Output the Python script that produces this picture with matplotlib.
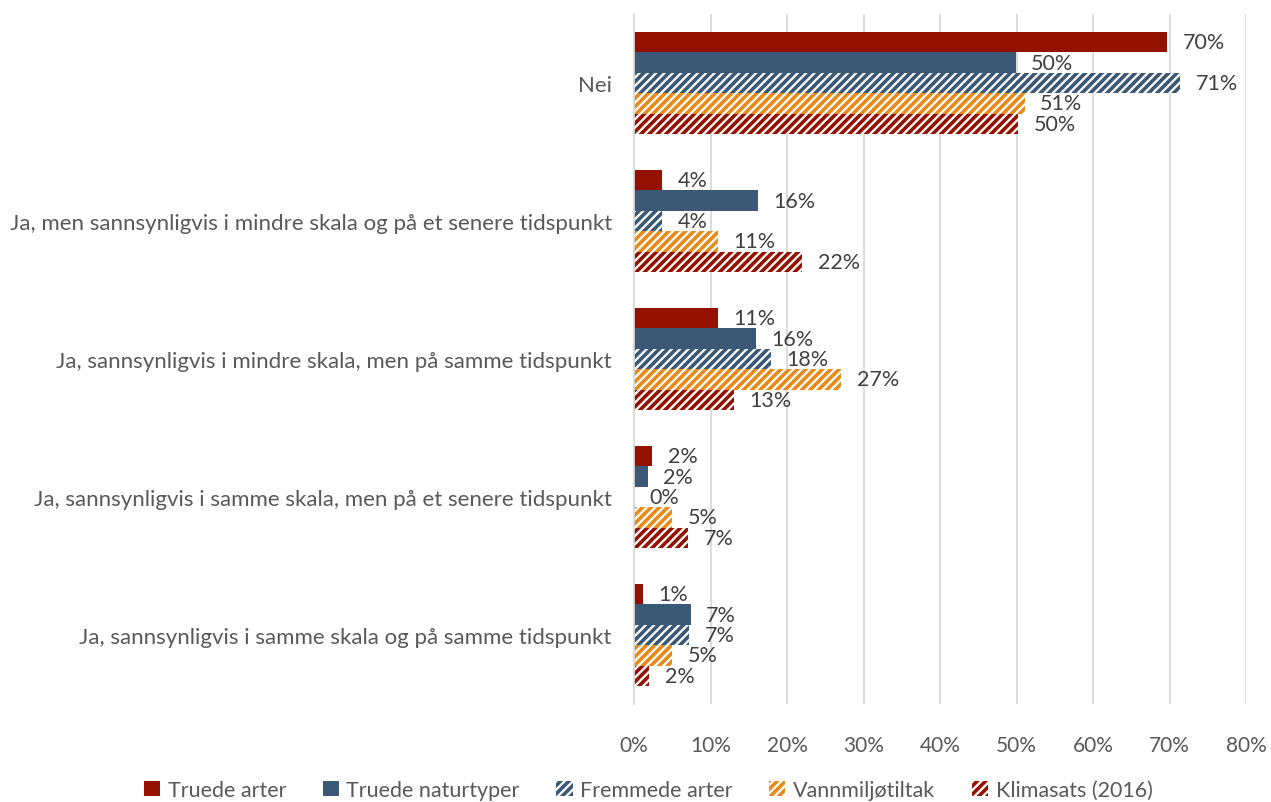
import numpy as np
import matplotlib
matplotlib.use("Agg")
import matplotlib.pyplot as plt

plt.rcParams['font.family'] = ['Lato', 'DejaVu Sans']
plt.rcParams['hatch.linewidth'] = 2.6

categories = [
    "Nei",
    "Ja, men sannsynligvis i mindre skala og på et senere tidspunkt",
    "Ja, sannsynligvis i mindre skala, men på samme tidspunkt",
    "Ja, sannsynligvis i samme skala, men på et senere tidspunkt",
    "Ja, sannsynligvis i samme skala og på samme tidspunkt",
]
series = ["Truede arter", "Truede naturtyper", "Fremmede arter", "Vannmiljøtiltak", "Klimasats (2016)"]

truede_arter = [69.7, 3.7, 11.0, 2.4, 1.2]
truede_naturtyper = [49.9, 16.2, 15.9, 1.8, 7.4]
fremmede_arter = [71.4, 3.7, 17.9, 0.0, 7.2]
vannmiljo = [51.1, 11.0, 27.1, 5.0, 5.0]
klimasats = [50.2, 22.0, 13.1, 7.1, 2.0]

values = [truede_arter, truede_naturtyper, fremmede_arter, vannmiljo, klimasats]
colors = ["#941100", "#3B5877", "#3B5877", "#E68A1A", "#941100"]
hatches = [None, None, "////", "////", "////"]

fig = plt.figure(figsize=(12.71, 8.03), dpi=100)
ax = fig.add_axes([634 / 1271, 98 / 803, (1246 - 634) / 1271, 690 / 803])

n = len(series)
h = 0.148
y = np.arange(len(categories))
for i in range(n):
    pos = y - 2 * h + i * h
    if hatches[i] is None:
        ax.barh(pos, values[i], height=h, color=colors[i], label=series[i], linewidth=0)
    else:
        ax.barh(pos, values[i], height=h, facecolor="white", edgecolor=colors[i],
                hatch=hatches[i], linewidth=0, label=series[i])
    for p, v in zip(pos, values[i]):
        ax.text(v + 2.0, p, f"{v:.0f}%", va="center", ha="left", fontsize=15.5, color="#404040")

ax.set_ylim(4.5, -0.5)
ax.set_xlim(0, 80)
ax.set_xticks(np.arange(0, 81, 10))
ax.set_xticklabels([f"{t}%" for t in range(0, 81, 10)], fontsize=15, color="#595959")
ax.set_yticks(y)
ax.set_yticklabels(categories, fontsize=16, color="#595959")
ax.tick_params(axis="y", length=0, pad=16)
ax.tick_params(axis="x", length=0, pad=22)
ax.grid(axis="x", color="#D9D9D9", linewidth=1.3)
ax.set_axisbelow(True)
for s in ["top", "right", "bottom"]:
    ax.spines[s].set_visible(False)
ax.spines["left"].set_color("#D9D9D9")
ax.spines["left"].set_linewidth(1.3)

handles, labels = ax.get_legend_handles_labels()
fig.legend(handles, labels, loc="center", bbox_to_anchor=(0.51, 1 - 791 / 803), ncol=5,
           frameon=False, fontsize=15.5, handlelength=0.75, handleheight=0.75,
           columnspacing=1.7, handletextpad=0.35, labelcolor="#595959")

fig.savefig("out.png", dpi=100)
